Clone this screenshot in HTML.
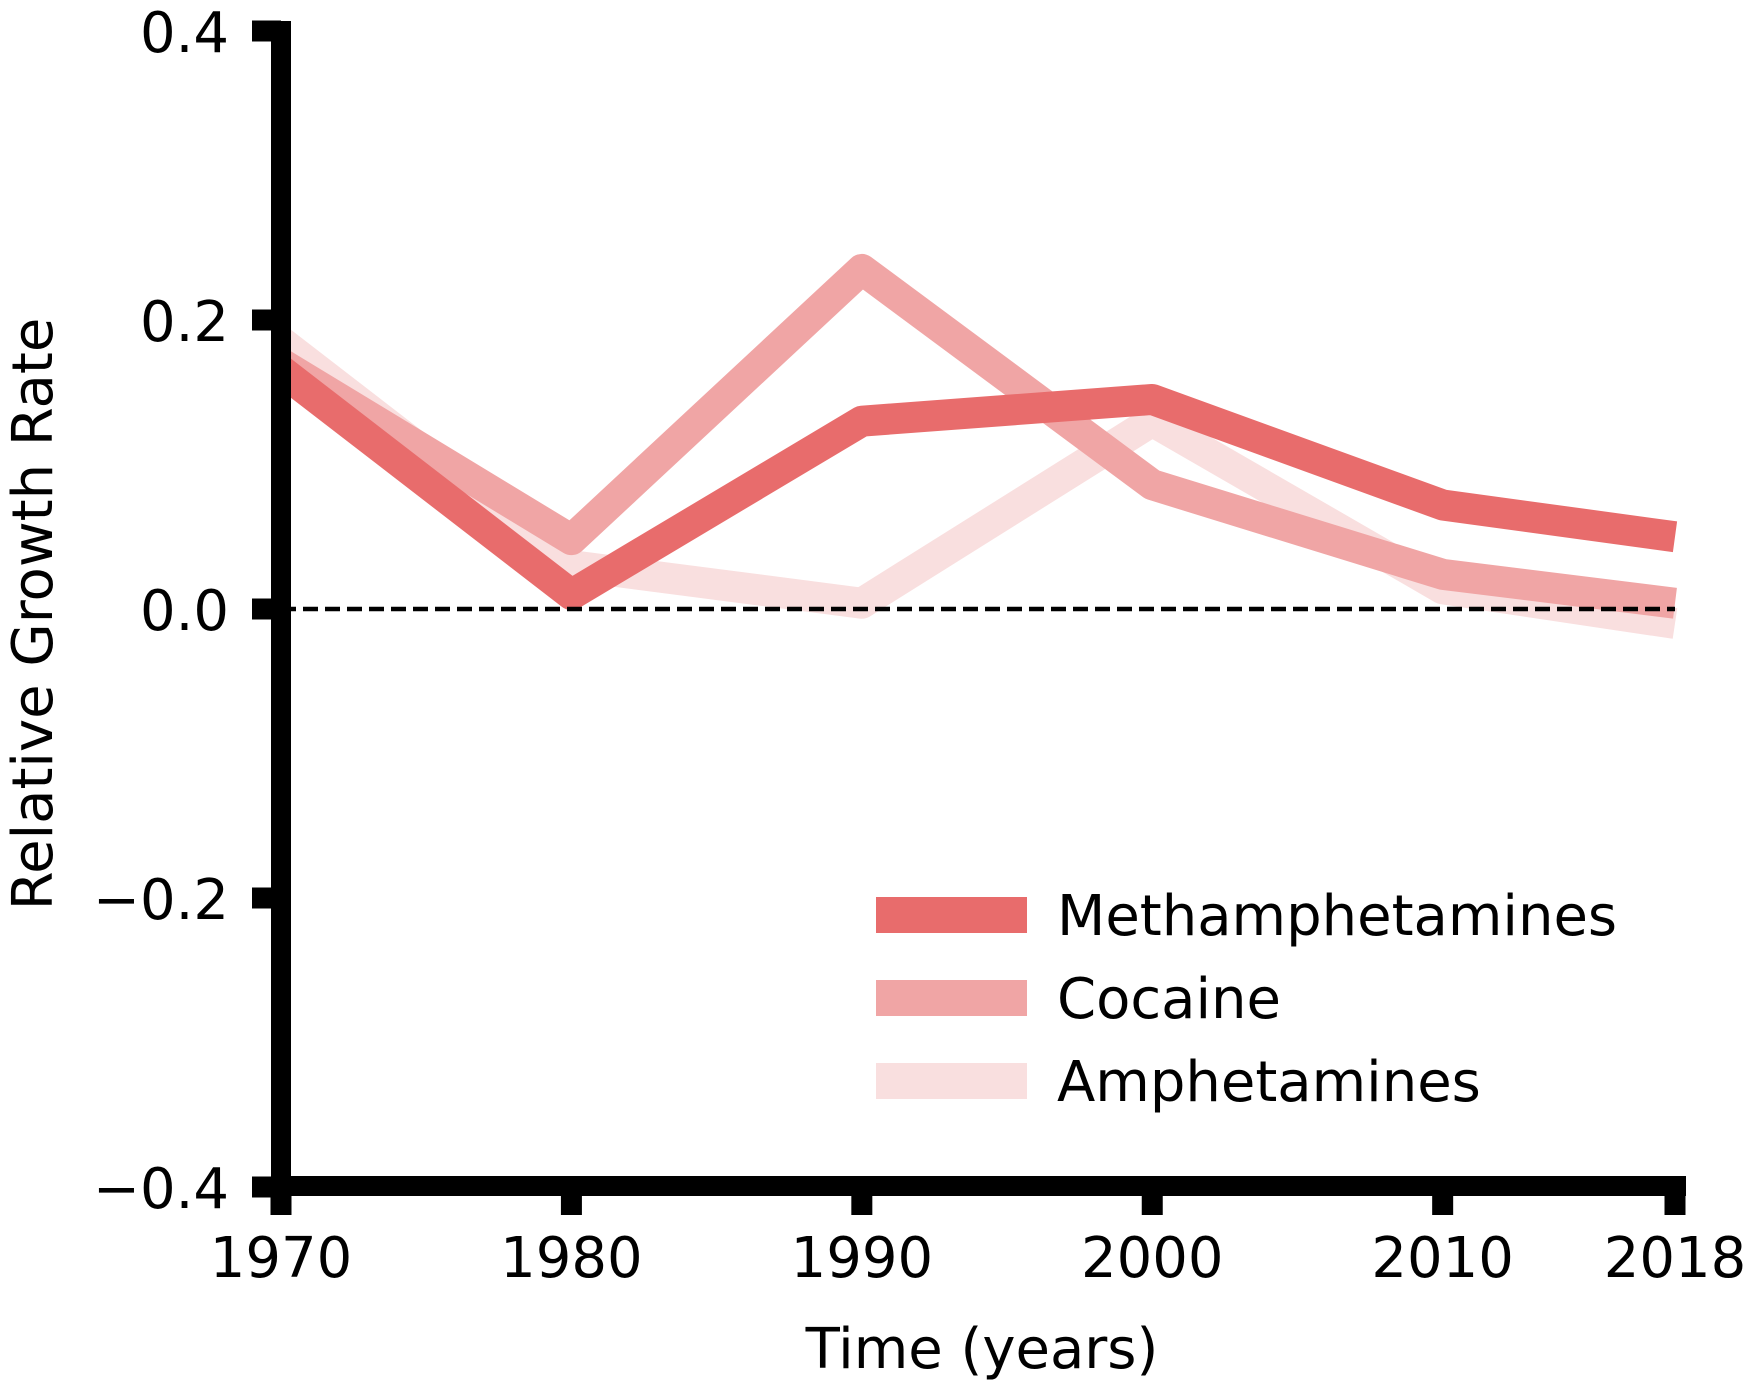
<!DOCTYPE html>
<html><head><meta charset="utf-8"><style>html,body{margin:0;padding:0;background:#fff}svg{display:block}text{font-family:"DejaVu Sans","Liberation Sans",sans-serif;fill:#000}</style></head>
<body>
<svg id="chart" width="1757" height="1382" xmlns="http://www.w3.org/2000/svg"></svg>
<script>
const years = [1970, 1980, 1990, 2000, 2010, 2018];
const meth = [0.165, 0.01, 0.13, 0.145, 0.072, 0.05];
const cocaine = [0.17, 0.048, 0.235, 0.086, 0.024, 0.004];
const amph = [0.185, 0.03, 0.004, 0.13, 0.014, -0.01];
const yTicks = [0.4, 0.2, 0.0, -0.2, -0.4];
const yTickLabels = ["0.4", "0.2", "0.0", "\u22120.2", "\u22120.4"];
const xTickLabels = ["1970", "1980", "1990", "2000", "2010", "2018"];
const seriesNames = ["Methamphetamines", "Cocaine", "Amphetamines"];

const NS = "http://www.w3.org/2000/svg";
const svg = document.getElementById("chart");
const x = v => 281 + (v - 1970) * (1675 - 281) / 48;
const y = v => 609 - v * (609 - 320) / 0.2;
function mk(tag, attrs, parent) { const e = document.createElementNS(NS, tag); for (const k in attrs) e.setAttribute(k, attrs[k]); (parent || svg).appendChild(e); return e; }

const series = [[meth, "#e86c6c"], [cocaine, "#f0a5a5"], [amph, "#f9dfdf"]];
[2, 1, 0].forEach(i => {
  const [vals, col] = series[i];
  const p = mk("polyline", { points: vals.map((v, j) => x(years[j]) + "," + y(v)).join(" "), fill: "none", stroke: col, "stroke-width": 31, "stroke-linejoin": "round", "stroke-linecap": "butt" });
  
  
});
const zl = mk("line", { x1: x(1970), x2: x(2018), y1: y(0), y2: y(0), stroke: "#000", "stroke-width": 4.5, "stroke-dasharray": "15,7" });



const ya = mk("line", { x1: 281, x2: 281, y1: 21, y2: 1196, stroke: "#000", "stroke-width": 20 });


const xa = mk("line", { x1: 271, x2: 1686, y1: 1186, y2: 1186, stroke: "#000", "stroke-width": 20 });



yTicks.forEach((v, i) => {
  const t = mk("line", { x1: 252, x2: 281, y1: y(v), y2: y(v), stroke: "#000", "stroke-width": 21 });
  
  
  const l = mk("text", { x: 229, y: y(v) + 21, "text-anchor": "end", "font-size": 56 });
  l.textContent = yTickLabels[i];
  
  
});
years.forEach((v, i) => {
  const t = mk("line", { x1: x(v), x2: x(v), y1: 1186, y2: 1215, stroke: "#000", "stroke-width": 21 });
  
  
  const l = mk("text", { x: x(v), y: 1277, "text-anchor": "middle", "font-size": 56 });
  l.textContent = xTickLabels[i];
  
  
});
const xt = mk("text", { x: 982, y: 1368, "text-anchor": "middle", "font-size": 56 });
xt.textContent = "Time (years)";


const yt = mk("text", { x: 0, y: 0, "text-anchor": "middle", "font-size": 56, transform: "translate(52,614) rotate(-90)" });
yt.textContent = "Relative Growth Rate";



const ly = [915, 998, 1081];
seriesNames.forEach((n, i) => {
  const h = mk("line", { x1: 876, x2: 1027, y1: ly[i], y2: ly[i], stroke: series[i][1], "stroke-width": 36 });
  
  
  const t = mk("text", { x: 1057, y: ly[i] + 20, "font-size": 56 });
  t.textContent = n;
  
  
});
</script>
</body></html>
